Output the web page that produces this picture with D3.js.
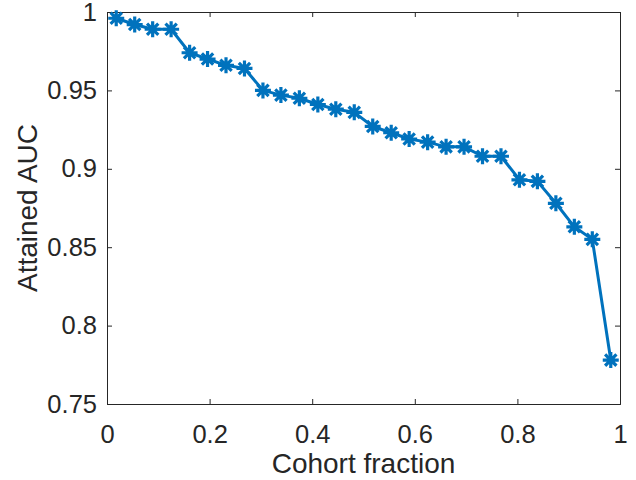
<!DOCTYPE html>
<html><head><meta charset="utf-8">
<script src="https://cdn.jsdelivr.net/npm/d3@7"></script>
<style>body{margin:0;background:#fff}svg{display:block}text{font-family:"Liberation Sans",Arial,sans-serif;fill:#262626}</style>
</head><body><svg id="c" width="636" height="480"></svg>
<script>
const cohortFraction = [0.018,0.054,0.089,0.125,0.161,0.196,0.232,0.268,0.304,0.339,0.375,0.411,0.446,0.482,0.518,0.554,0.589,0.625,0.661,0.696,0.732,0.768,0.804,0.839,0.875,0.911,0.946,0.982];
const attainedAUC = [0.996,0.992,0.989,0.989,0.974,0.970,0.966,0.964,0.950,0.947,0.945,0.941,0.938,0.936,0.927,0.923,0.919,0.917,0.914,0.914,0.908,0.908,0.893,0.892,0.878,0.863,0.855,0.778];
const xTicks = [0,0.2,0.4,0.6,0.8,1];
const yTicks = [0.75,0.8,0.85,0.9,0.95,1];
const xLabel = "Cohort fraction", yLabel = "Attained AUC";

const L=107,R=620,T=12,B=404;
const svg=d3.select("#c");
const x=d3.scaleLinear().domain([0,1]).range([L,R]);
const y=d3.scaleLinear().domain([0.75,1]).range([B,T]);
const axCol="#262626", tl=5, tickFont=25.5, labFont=28;
const fmt=d=>String(+d.toFixed(2));

const gx=svg.append("g").attr("transform",`translate(0,${B})`).call(d3.axisBottom(x).tickValues(xTicks).tickSize(-tl).tickPadding(21).tickFormat(fmt));
const gxt=svg.append("g").attr("transform",`translate(0,${T})`).call(d3.axisTop(x).tickValues(xTicks).tickSize(-tl).tickFormat(""));
const gy=svg.append("g").attr("transform",`translate(${L},0)`).call(d3.axisLeft(y).tickValues(yTicks).tickSize(-tl).tickPadding(10).tickFormat(fmt));
const gyr=svg.append("g").attr("transform",`translate(${R},0)`).call(d3.axisRight(y).tickValues(yTicks).tickSize(-tl).tickFormat(""));
[gx,gxt,gy,gyr].forEach(g=>{
  g.select(".domain").attr("stroke",axCol).attr("stroke-width",1);
  g.selectAll(".tick line").attr("stroke",axCol).attr("stroke-width",1);
  g.selectAll("text").attr("font-size",tickFont).attr("fill",axCol).style("font-family","'Liberation Sans',Arial,sans-serif");
});
gx.selectAll("text").attr("dy","0.71em");

svg.append("text").attr("x",(L+R)/2).attr("y",473).attr("text-anchor","middle").attr("font-size",labFont).text(xLabel);
svg.append("text").attr("transform",`translate(37,${(T+B)/2}) rotate(-90)`).attr("text-anchor","middle").attr("font-size",labFont).text(yLabel);

const col="#0072BD";
const pts=cohortFraction.map((d,i)=>[d,attainedAUC[i]]);
svg.append("path").datum(pts).attr("fill","none").attr("stroke",col).attr("stroke-width",3)
  .attr("stroke-linejoin","round").attr("d",d3.line().x(d=>x(d[0])).y(d=>y(d[1])));
const s=8, sd=s*0.7071;
const m=svg.append("g").selectAll("g").data(pts).join("g").attr("transform",d=>`translate(${x(d[0])},${y(d[1])})`);
m.append("path").attr("d",`M${-s},0H${s}M0,${-s}V${s}M${-sd},${-sd}L${sd},${sd}M${-sd},${sd}L${sd},${-sd}`)
  .attr("stroke",col).attr("stroke-width",3.2).attr("fill","none");
</script></body></html>
